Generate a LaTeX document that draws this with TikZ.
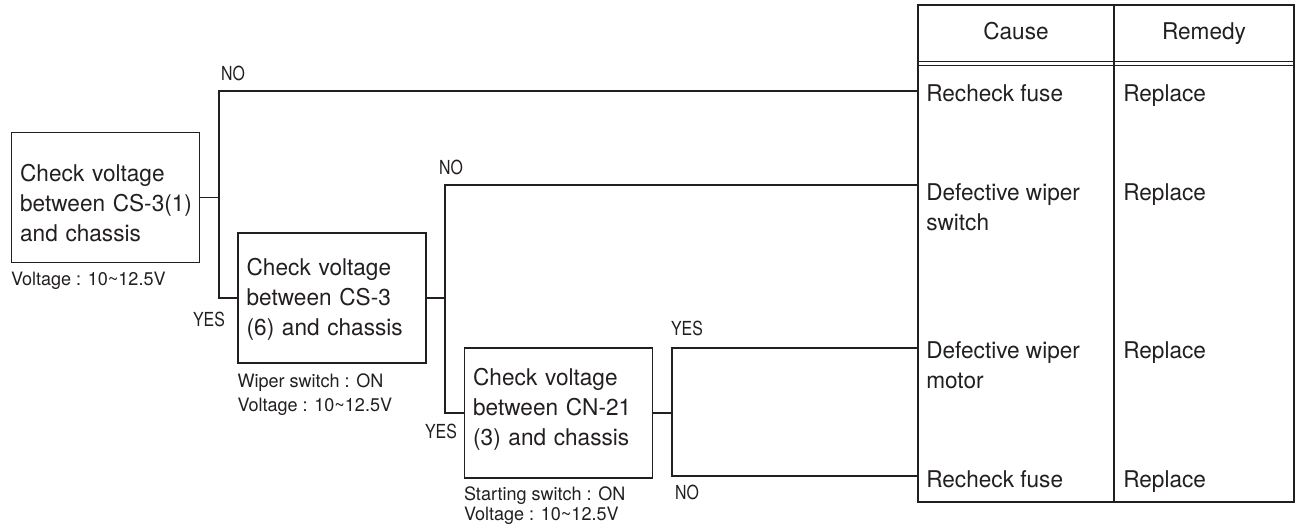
\documentclass[tikz,border=0pt]{standalone}
\usepackage{fontspec}
\setmainfont{TeX Gyre Heros}[FakeStretch=0.98]
\newfontfamily\ansfont{TeX Gyre Heros}[FakeStretch=0.82]
\usetikzlibrary{positioning}
\definecolor{ink}{RGB}{35,31,32}

\tikzset{
  chkbox/.style={draw=ink, text=ink, line width=1.1pt, align=left, text width=128pt,
    inner xsep=6.5pt, minimum height=97.5pt, font=\fontsize{17.3}{22.5}\selectfont},
  note/.style={text=ink, align=left, inner sep=0pt, font=\fontsize{13.8}{18.5}\selectfont},
  ans/.style={text=ink, inner sep=0pt, font=\ansfont\fontsize{14.5}{16}\selectfont},
  cell/.style={text=ink, anchor=north west, align=left, inner sep=0pt,
    font=\fontsize{17.3}{22.5}\selectfont},
  head/.style={text=ink, anchor=base, inner sep=0pt, font=\fontsize{17.3}{20}\selectfont},
  wire/.style={draw=ink, line width=0.85pt},
  frame/.style={draw=ink, line width=1.4pt},
}

\begin{document}
\begin{tikzpicture}[x=0.75pt, y=-0.75pt]
  \useasboundingbox (0,0) rectangle (1301,530);

  % --- check boxes ---
  \node[chkbox] (chk1) at (105.5,197.5) {\rule{0pt}{21pt}Check voltage\\\mbox{between CS-3(1)}\\and chassis};
  \node[chkbox] (chk2) at (332,298) {\rule{0pt}{15pt}Check voltage\\between CS-3\\(6) and chassis};
  \node[chkbox] (chk3) at (558.5,413) {Check voltage\\between CN-21\\\rule[-9pt]{0pt}{0pt}(3) and chassis};

  % conditions under each box
  \node[note, anchor=north west] (note1) at ([yshift=-6.5pt]chk1.south west) {Voltage : 10\textasciitilde12.5V};
  \node[note, anchor=north west] (note2) at ([yshift=-7pt]chk2.south west) {Wiper switch : ON\\Voltage : 10\textasciitilde12.5V};
  \node[note, anchor=north west, font=\fontsize{13.8}{15}\selectfont] (note3) at ([yshift=-5.5pt]chk3.south west) {Starting switch : ON\\Voltage : 10\textasciitilde12.5V};

  % --- table (cause / remedy) ---
  \coordinate (T-nw) at (918,5);
  \coordinate (T-se) at (1294,502);
  \coordinate (T-colt) at (1114,5);
  \coordinate (T-colb) at (1114,502);
  \draw[frame] (T-nw) rectangle (T-se);
  \draw[frame] (T-colt) -- (T-colb);
  \draw[ink, line width=0.8pt] (918,61.5) -- (1294,61.5);
  \draw[ink, line width=0.8pt] (918,65.5) -- (1294,65.5);

  \node[head] (h-cause) at (1016,40) {Cause};
  \node[head] (h-remedy) at (1204,40) {Remedy};

  \node[cell] (c-fuse1) at (926,84) {Recheck fuse};
  \node[cell] (c-switch) at (926,183) {Defective wiper\\switch};
  \node[cell] (c-motor) at (926,341) {Defective wiper\\motor};
  \node[cell] (c-fuse2) at (926,470) {Recheck fuse};

  \node[cell] (r-fuse1) at (1123,84) {Replace};
  \node[cell] (r-switch) at (1123,183) {Replace};
  \node[cell] (r-motor) at (1123,341) {Replace};
  \node[cell] (r-fuse2) at (1123,470) {Replace};

  % row ends on the table's left edge
  \coordinate (T-fuse1) at (918,91);
  \coordinate (T-switch) at (918,185);
  \coordinate (T-motor) at (918,348);
  \coordinate (T-fuse2) at (918,476);

  % === branch lines ===
  \coordinate (J1) at (219,197.5);
  \coordinate (J2) at (445,298);
  \coordinate (J3) at (672,413);

  \draw[wire] (chk1) -- (J1);
  \draw[wire] (T-fuse1) -| (J1) |- (chk2);
  \draw[wire] (chk2) -- (J2);
  \draw[wire] (T-switch) -| (J2) |- (chk3);
  \draw[wire] (chk3) -- (J3);
  \draw[wire] (T-motor) -| (J3) |- (T-fuse2);

  % YES / NO labels
  \node[ans] (no1) at (233,73) {NO};
  \node[ans] (yes1) at (209,319) {YES};
  \node[ans] (no2) at (451,167) {NO};
  \node[ans] (yes2) at (441,431) {YES};
  \node[ans] (yes3) at (687,328) {YES};
  \node[ans] (no3) at (687,492) {NO};
\end{tikzpicture}
\end{document}
